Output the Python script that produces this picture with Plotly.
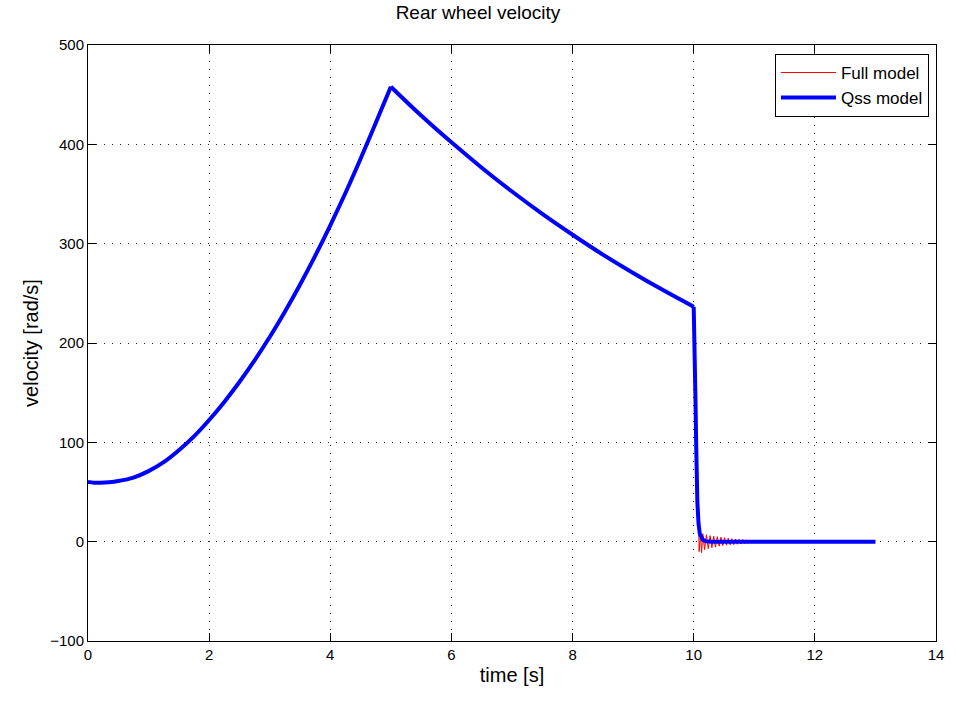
import plotly.graph_objects as go

# Qss model
t_qss = [0.0, 0.1, 0.2, 0.35, 0.5, 0.75, 1.0, 1.25, 1.5, 1.75, 2.0, 2.25, 2.5, 2.75,
         3.0, 3.25, 3.5, 3.75, 4.0, 4.25, 4.5, 4.75, 5.0,
         5.5, 6.0, 6.5, 7.0, 7.5, 8.0, 8.5, 9.0, 9.5, 10.0,
         10.01, 10.02, 10.03, 10.04, 10.05, 10.06, 10.08, 10.1, 10.15, 10.2, 10.3, 13.0]
v_qss = [60, 59.4, 59.3, 59.8, 61, 64.5, 71, 80, 92, 106, 122.5, 140.7, 160.7, 182.5,
         206, 231.5, 258.7, 287.7, 318.5, 351, 385.5, 421.5, 458,
         429, 402, 376.5, 352.5, 330, 309, 289, 270.5, 253, 236.5,
         215, 180, 140, 100, 65, 40, 18, 8, 2, 0.5, 0, 0]

# Full model (same up to the drop, then oscillating tail)
t_full = [0.0, 0.1, 0.2, 0.35, 0.5, 0.75, 1.0, 1.25, 1.5, 1.75, 2.0, 2.25, 2.5, 2.75,
          3.0, 3.25, 3.5, 3.75, 4.0, 4.25, 4.5, 4.75, 5.0,
          5.5, 6.0, 6.5, 7.0, 7.5, 8.0, 8.5, 9.0, 9.5, 10.0,
          10.02, 10.04, 10.06, 10.075, 10.09, 10.11, 10.13, 10.15, 10.18, 10.21,
          10.24, 10.27, 10.30, 10.33, 10.36, 10.39, 10.42, 10.45, 10.48, 10.51,
          10.54, 10.57, 10.60, 10.63, 10.66, 10.69, 10.72, 10.75, 10.78, 10.81,
          10.84, 10.87, 10.90, 10.94, 11.0, 13.0]
v_full = [60, 59.4, 59.3, 59.8, 61, 64.5, 71, 80, 92, 106, 122.5, 140.7, 160.7, 182.5,
          206, 231.5, 258.7, 287.7, 318.5, 351, 385.5, 421.5, 458,
          429, 402, 376.5, 352.5, 330, 309, 289, 270.5, 253, 236.5,
          180, 100, 40, 8, -10, 7, -11, 8, -8, 7,
          -7, 6, -6, 5.5, -5.5, 5, -4.5, 4.5, -4, 4,
          -3.5, 3.5, -3.2, 3, -3, 2.8, -2.6, 2.5, -2.3, 2.2,
          -2, 1.8, -1.6, 1, 0, 0]

x_ticks = [0, 2, 4, 6, 8, 10, 12, 14]
y_ticks = [-100, 0, 100, 200, 300, 400, 500]

fig = go.Figure()


def add_series(t, v, name, color, width):
    # smooth segments: rise [0,5], decay [5,10]; linear tail after 10
    i5 = t.index(5.0)
    i10 = t.index(10.0)
    segs = [(0, i5 + 1, "spline"), (i5, i10 + 1, "spline"), (i10, len(t), "linear")]
    for k, (a, b, shape) in enumerate(segs):
        fig.add_trace(go.Scatter(
            x=t[a:b], y=v[a:b], mode="lines", name=name, legendgroup=name,
            showlegend=(k == 0),
            line=dict(color=color, width=width, shape=shape,
                      smoothing=1.0 if shape == "spline" else None)))


add_series(t_full, v_full, "Full model", "#ff0000", 1)
add_series(t_qss, v_qss, "Qss model", "#0000ff", 4)

font = "Liberation Sans, Arial, sans-serif"
axis_common = dict(showline=True, linecolor="black", linewidth=1, mirror="ticks",
                   ticks="inside", ticklen=8, tickcolor="black",
                   showgrid=True, gridcolor="#222222", griddash="1px,7px", gridwidth=1,
                   zeroline=False, tickfont=dict(family=font, size=15, color="black"))

fig.update_layout(
    width=956, height=702,
    margin=dict(l=88, r=20, t=45, b=61),
    paper_bgcolor="white", plot_bgcolor="white",
    title=dict(text="Rear wheel velocity", x=0.5, xanchor="center", y=0.982, yanchor="middle",
               font=dict(family=font, size=19, color="black")),
    xaxis=dict(range=[0, 14], tickvals=x_ticks,
               title=dict(text="time [s]", font=dict(family=font, size=20, color="black"), standoff=5),
               **axis_common),
    yaxis=dict(range=[-100, 500], tickvals=y_ticks,
               title=dict(text="velocity [rad/s]", font=dict(family=font, size=20, color="black"), standoff=6),
               **axis_common),
    legend=dict(x=0.9917, y=0.985, xanchor="right", yanchor="top",
                bordercolor="black", borderwidth=1, bgcolor="white",
                font=dict(family=font, size=17, color="black"),
                itemwidth=55, tracegroupgap=0),
    showlegend=True,
)

fig.write_html("out.html")
